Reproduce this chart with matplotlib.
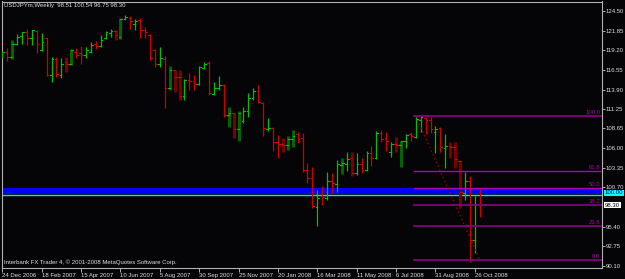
import matplotlib
matplotlib.use("Agg")
import matplotlib.pyplot as plt

plt.rcParams["font.family"] = ["Liberation Sans", "DejaVu Sans"]

# weekly USDJPYm bars, 24 Dec 2006 .. 2 Nov 2008
opens = [118.4, 119.0, 118.3, 120.0, 121.1, 121.6, 120.9, 121.8, 119.3, 120.8,
         115.9, 118.0, 115.8, 117.6, 117.4, 118.9, 118.8, 118.5, 119.0, 120.0,
         119.8, 120.8, 121.5, 121.8, 121.0, 123.4, 123.6, 122.8, 123.3, 122.0,
         121.2, 119.2, 117.4, 118.0, 114.1, 116.5, 115.6, 113.0, 115.2, 115.0,
         114.6, 116.8, 117.5, 113.3, 114.1, 114.5, 110.5, 110.7, 108.6, 109.6,
         111.0, 112.8, 113.7, 112.1, 108.6, 108.7, 106.8, 106.6, 106.4, 107.2,
         107.9, 107.3, 103.0, 102.0, 98.0, 99.6, 99.3, 101.5, 101.1, 103.7,
         103.9, 104.6, 102.6, 103.9, 103.0, 105.3, 104.6, 108.0, 107.3, 105.5,
         106.6, 106.4, 106.9, 107.9, 107.5, 109.8, 110.0, 109.8, 108.2, 108.7,
         106.0, 106.3, 106.1, 104.3, 100.0, 101.5, 93.6, 98.51]
highs = [119.1, 119.5, 120.6, 121.4, 121.7, 122.1, 122.0, 122.0, 121.5, 120.9,
         118.3, 118.3, 118.2, 118.3, 119.4, 119.5, 119.8, 119.6, 120.3, 120.4,
         121.3, 121.8, 122.1, 122.0, 123.6, 124.0, 123.8, 123.4, 123.6, 122.3,
         121.4, 119.4, 119.6, 118.4, 117.1, 116.6, 116.5, 115.3, 116.1, 115.8,
         117.1, 117.6, 117.8, 114.9, 115.7, 114.6, 111.5, 110.8, 111.0, 111.6,
         113.4, 114.1, 114.5, 112.2, 110.1, 108.8, 107.8, 107.4, 107.6, 108.4,
         108.2, 108.0, 104.0, 103.4, 100.3, 100.9, 102.8, 102.6, 104.4, 104.7,
         105.5, 105.5, 105.3, 104.6, 105.6, 106.3, 108.3, 108.4, 108.2, 106.8,
         107.5, 107.0, 107.9, 108.2, 110.3, 110.5, 110.1, 110.2, 109.0, 108.8,
         107.9, 106.8, 106.8, 104.4, 102.8, 102.2, 99.5, 100.54]
lows = [118.2, 117.8, 118.0, 119.9, 120.0, 119.9, 119.9, 118.8, 119.1, 115.7,
        114.9, 115.6, 115.5, 116.3, 117.2, 118.2, 117.3, 118.2, 118.8, 119.4,
        119.7, 120.7, 121.0, 120.6, 120.7, 123.3, 122.1, 121.9, 120.9, 120.9,
        117.9, 116.9, 116.9, 111.4, 113.8, 113.6, 112.5, 112.5, 113.8, 113.8,
        114.5, 116.7, 113.2, 113.2, 113.8, 110.2, 108.8, 107.4, 107.0, 109.4,
        110.2, 112.5, 112.1, 107.6, 108.3, 105.6, 104.7, 105.5, 105.7, 106.1,
        106.7, 102.8, 101.3, 97.9, 95.5, 98.3, 99.0, 99.9, 100.1, 102.5,
        102.9, 102.2, 102.4, 102.6, 102.9, 103.6, 104.5, 106.8, 105.6, 104.8,
        105.5, 103.4, 106.0, 107.0, 107.4, 108.2, 107.9, 108.0, 105.3, 105.5,
        103.3, 104.7, 103.3, 97.9, 99.0, 90.6, 91.8, 96.75]
closes = [118.9, 118.3, 120.1, 121.0, 121.6, 120.9, 121.9, 120.1, 120.3, 115.9,
          118.0, 116.0, 117.3, 117.4, 119.2, 118.5, 118.5, 119.2, 119.9, 119.8,
          120.6, 121.6, 121.8, 121.3, 123.4, 123.7, 123.1, 123.2, 121.9, 121.7,
          118.2, 117.4, 118.2, 114.1, 116.5, 115.6, 113.0, 115.2, 115.0, 114.6,
          116.9, 117.4, 113.4, 114.1, 114.5, 110.5, 110.7, 108.6, 110.7, 111.0,
          112.8, 113.7, 112.2, 108.7, 108.7, 106.8, 106.6, 106.4, 107.2, 107.6,
          107.2, 103.0, 102.0, 98.2, 99.3, 99.4, 101.6, 101.3, 103.8, 104.0,
          104.5, 102.6, 103.9, 103.1, 105.3, 104.6, 108.1, 107.2, 107.0, 106.6,
          106.4, 106.9, 107.8, 107.6, 109.9, 110.2, 109.8, 108.6, 108.6, 106.2,
          106.3, 106.1, 104.5, 100.1, 101.5, 93.6, 98.5, 98.30]
# bars that the chart paints thick and dark
heavy = [2, 13, 14, 23, 24, 34, 35, 36, 46, 47, 48, 57, 58, 59, 69, 71, 80, 81, 91, 92, 93]

date_idx = [0, 8, 16, 24, 32, 40, 48, 56, 64, 72, 80, 88, 96]
date_labels = ["24 Dec 2006", "18 Feb 2007", "15 Apr 2007", "10 Jun 2007", "5 Aug 2007",
               "30 Sep 2007", "25 Nov 2007", "20 Jan 2008", "16 Mar 2008", "11 May 2008",
               "6 Jul 2008", "31 Aug 2008", "26 Oct 2008"]
price_ticks = [124.50, 121.85, 119.20, 116.55, 113.90, 111.25, 108.65, 106.00,
               103.35, 100.70, 95.40, 92.75, 90.10]

fib_hi, fib_lo = 110.3, 90.95
fib_start, fib_end = 84, 97
fib_levels = [0.0, 23.6, 38.2, 50.0, 61.8, 100.0]
zone_lo, zone_hi = 99.80, 100.65
hline = 99.72

BG = "#050406"
UP, DN = "#00c000", "#d00000"
UP_D, DN_D = "#006400", "#780000"
FG = "#e0e0e0"
FS = 4.3

fig = plt.figure(figsize=(6.25, 2.79), dpi=100, facecolor=BG)
ax = fig.add_axes([2 / 625, 11 / 279, 600 / 625, 266.5 / 279], facecolor=BG)
ax.set_xlim(-0.06, 121.83)
ax.set_ylim(89.82, 125.78)

# blue zone + cyan line
ax.axhspan(zone_lo, zone_hi, color="#0000ff", lw=0, zorder=1)
ax.axhline(hline, color="#00e0ff", lw=1.0, zorder=1)

tick = 0.35
for i in range(len(opens)):
    up = closes[i] >= opens[i]
    col = UP if up else DN
    if i in heavy:
        ax.plot([i, i], [lows[i], highs[i]], color=UP_D if up else DN_D, lw=2.2,
                solid_capstyle="butt", zorder=2)
    else:
        ax.plot([i, i], [lows[i], highs[i]], color=col, lw=0.9,
                solid_capstyle="butt", zorder=3)
    ax.plot([i - tick, i], [opens[i], opens[i]], color=col, lw=0.8, zorder=3)
    ax.plot([i, i + tick], [closes[i], closes[i]], color=col, lw=0.8, zorder=3)

# fibonacci retracement
rng = fib_hi - fib_lo
for lv in fib_levels:
    p = fib_lo + rng * lv / 100
    bright = lv in (50.0, 61.8)
    ax.plot([fib_start - 0.3, 121.83], [p, p], color="#b000b0" if bright else "#800080",
            lw=1.0 if bright else 1.3, zorder=4)
    ax.text(121.5, p + 0.15, f"{lv:.1f}", color="#b000b0", fontsize=FS,
            ha="right", va="bottom", zorder=5)
ax.plot([fib_start, fib_end], [fib_hi, fib_lo], color="#a00000", lw=1.0,
        ls=(0, (1, 2)), zorder=4)

# axes frame and ticks
for s in ax.spines.values():
    s.set_color("#b0b0b0")
    s.set_linewidth(0.8)
ax.set_xticks(date_idx)
ax.set_xticklabels(date_labels, ha="left", fontsize=FS, color=FG)
ax.yaxis.tick_right()
ax.set_yticks(price_ticks)
ax.set_yticklabels([f"{v:.2f}" for v in price_ticks], fontsize=FS, color=FG)
ax.tick_params(axis="x", direction="out", length=3, width=0.7, color="#b0b0b0", pad=0.8)
ax.tick_params(axis="y", direction="out", length=2.2, width=0.7, color="#b0b0b0", pad=0.4)

# price boxes on the right
ax.text(1.005, 99.96, "100.00", transform=ax.get_yaxis_transform(), fontsize=FS,
        color="#000060", va="center", ha="left",
        bbox=dict(boxstyle="square,pad=0.12", fc="#00ffff", ec="none"))
ax.text(1.005, 98.30, "98.30", transform=ax.get_yaxis_transform(), fontsize=FS,
        color="black", va="center", ha="left",
        bbox=dict(boxstyle="square,pad=0.12", fc="white", ec="none"))

fig.text(4 / 625, 1 - 6 / 279, "USDJPYm,Weekly  98.51 100.54 96.75 98.30",
         color=FG, fontsize=FS, va="center", ha="left")
fig.text(4 / 625, 1 - 262 / 279,
         "Interbank FX Trader 4, \u00a9 2001-2008 MetaQuotes Software Corp.",
         color=FG, fontsize=FS, va="center", ha="left")

fig.savefig("out.png", dpi=100, facecolor=BG)
